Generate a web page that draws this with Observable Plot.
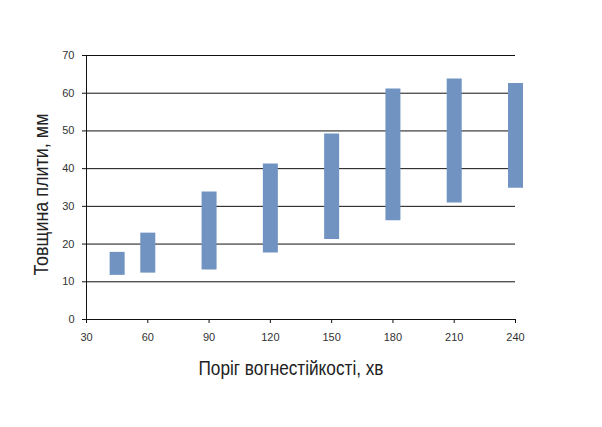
<!DOCTYPE html>
<html>
<head>
<meta charset="utf-8">
<script src="https://cdn.jsdelivr.net/npm/d3@7"></script>
<script src="https://cdn.jsdelivr.net/npm/@observablehq/plot@0.6"></script>
<style>
  html, body { margin: 0; padding: 0; background: #fff; }
</style>
</head>
<body>
<div id="chart"></div>
<script>
const fireRating = [45, 60, 90, 120, 150, 180, 210, 240];
const thicknessMin = [11.7, 12.3, 13.1, 17.6, 21.2, 26.2, 30.9, 34.8];
const thicknessMax = [17.8, 22.9, 33.8, 41.2, 49.2, 61.1, 63.8, 62.6];
const xTicks = [30, 60, 90, 120, 150, 180, 210, 240];
const yTicks = [0, 10, 20, 30, 40, 50, 60, 70];
const xTitle = "Поріг вогнестійкості, хв";
const yTitle = "Товщина плити, мм";

const rows = fireRating.map((x, i) => ({x, lo: thicknessMin[i], hi: thicknessMax[i]}));
const titleFont = "'Liberation Sans', Arial, sans-serif";

const chart = Plot.plot({
  width: 602,
  height: 427,
  marginLeft: 86,
  marginRight: 87,
  marginTop: 55,
  marginBottom: 108,
  style: {fontFamily: "'Liberation Sans', Arial, sans-serif", fontSize: "11px", color: "#333", background: "#fff"},
  x: {domain: [30, 240], ticks: xTicks},
  y: {domain: [0, 70], ticks: yTicks},
  marks: [
    Plot.gridY(yTicks.filter(d => d > 0), {stroke: "#111", strokeOpacity: 1, strokeWidth: 1}),
    Plot.ruleX([30], {y1: 0, y2: 70, stroke: "#111"}),
    Plot.ruleY([0], {stroke: "#111"}),
    Plot.axisX({ticks: xTicks, tickSize: 4, tickPadding: 10, label: null, stroke: "#111", fill: "#333"}),
    Plot.axisY({ticks: yTicks, tickSize: 4, tickPadding: 8, label: null, stroke: "#111", fill: "#333"}),
    Plot.ruleX(rows, {x: "x", y1: "lo", y2: "hi", stroke: "#7093c2", strokeWidth: 15}),
    Plot.text([xTitle], {frameAnchor: "bottom", dy: 55, dx: -10, textAnchor: "middle", fontSize: 20, fontWeight: 300, fontFamily: titleFont, fill: "#222", text: d => d}),
    Plot.text([yTitle], {frameAnchor: "left", dx: -45, dy: 7, textAnchor: "middle", rotate: -90, fontSize: 20, fontWeight: 300, fontFamily: titleFont, fill: "#222", text: d => d})
  ]
});
d3.select(chart).selectAll("text").each(function() {
  const t = this.textContent;
  if (t === xTitle) d3.select(this).attr("textLength", 185).attr("lengthAdjust", "spacingAndGlyphs");
  if (t === yTitle) d3.select(this).attr("textLength", 162).attr("lengthAdjust", "spacingAndGlyphs");
});
document.getElementById("chart").appendChild(chart);
</script>
</body>
</html>
